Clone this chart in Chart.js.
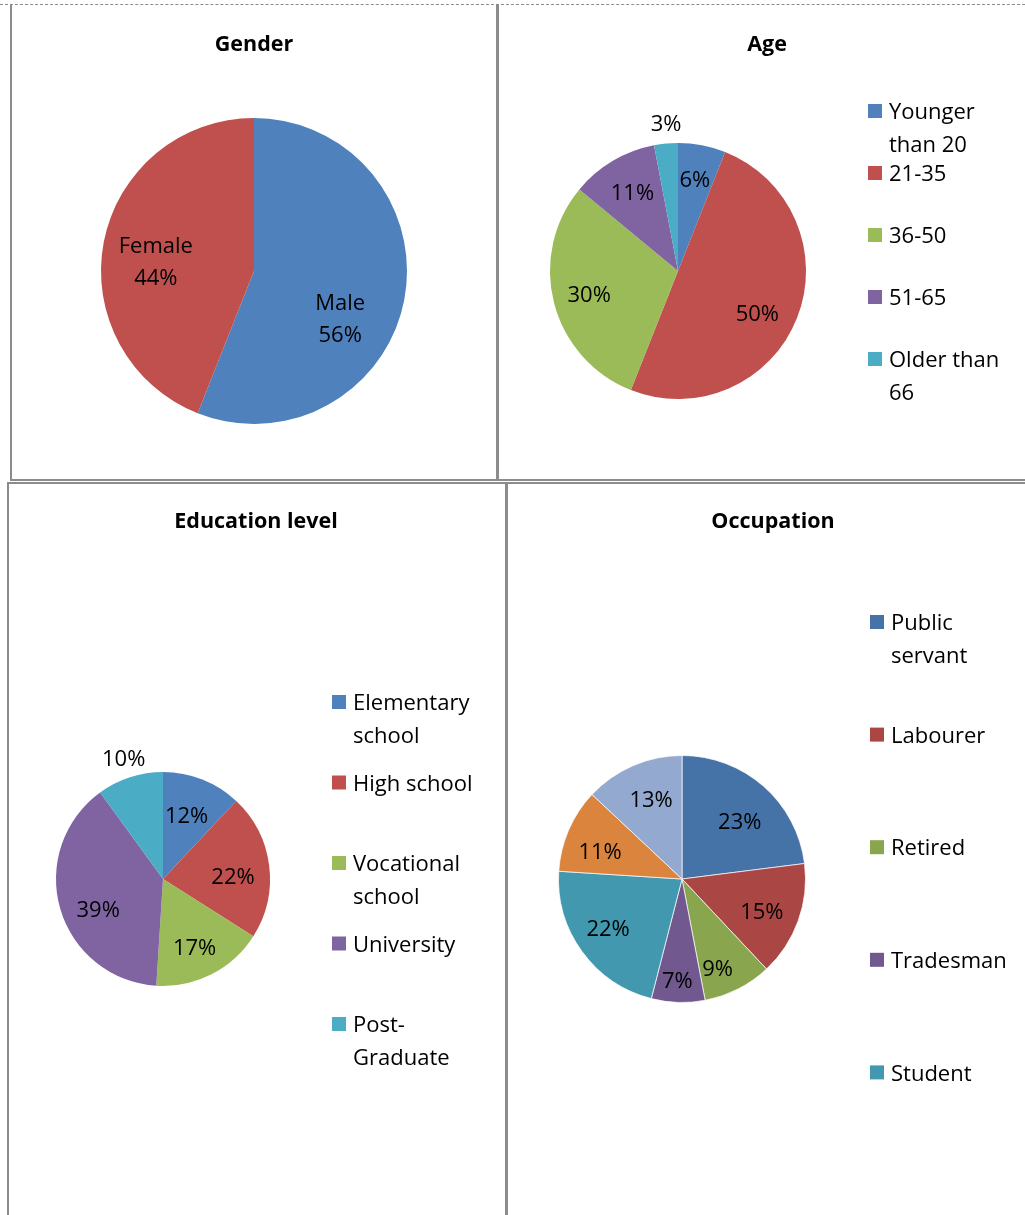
<!DOCTYPE html>
<html lang="en">
<head>
    <meta charset="utf-8" />
    <title>Survey respondents</title>
    <script src="https://cdn.jsdelivr.net/npm/chart.js"></script>
    <style>
      body { margin: 0; background: #fff; }
      #page { position: relative; width: 1025px; height: 1215px; overflow: hidden; }
      #page canvas { position: absolute; left: 0; top: 0; }
      .rule { position: absolute; background: #8c8c8c; }
      .dash { position: absolute; left: 0; top: 4px; width: 1025px; border-top: 1px dashed #8c8c8c; }
    </style>
</head>
<body>
<div id="page">
    <!-- table borders -->
    <div class="dash"></div>
    <div class="rule" style="left:10px;top:5px;width:2px;height:476px"></div>
    <div class="rule" style="left:496px;top:5px;width:3px;height:476px"></div>
    <div class="rule" style="left:10px;top:479px;width:1015px;height:2px"></div>
    <div class="rule" style="left:7px;top:482px;width:1018px;height:2px"></div>
    <div class="rule" style="left:7px;top:482px;width:2px;height:733px"></div>
    <div class="rule" style="left:505px;top:482px;width:3px;height:733px"></div>

    <canvas id="genderChart" width="1025" height="1215"></canvas>
    <canvas id="ageChart" width="1025" height="1215"></canvas>
    <canvas id="eduChart" width="1025" height="1215"></canvas>
    <canvas id="occChart" width="1025" height="1215"></canvas>
</div>

<script>
    // --- données ---
    const genderLabels = ["Male", "Female"];
    const genderValues = [56, 44];

    const ageLabels = [["Younger", "than 20"], "21-35", "36-50", "51-65", ["Older than", "66"]];
    const ageValues = [6, 50, 30, 11, 3];

    const eduLabels = [["Elementary", "school"], "High school", ["Vocational", "school"], "University", ["Post-", "Graduate"]];
    const eduValues = [12, 22, 17, 39, 10];

    const occLabels = [["Public", "servant"], "Labourer", "Retired", "Tradesman", "Student", "Unemployed", "Other"];
    const occValues = [23, 15, 9, 7, 22, 11, 13];

    const officeColors = ["#4F81BD", "#C0504D", "#9BBB59", "#8064A2", "#4BACC6", "#F79646"];
    const occColors = ["#4572A7", "#AA4643", "#89A54E", "#71588F", "#4198AF", "#DB843D", "#93A9CF"];

    const FONT = "'Open Sans', Lato, sans-serif";
    const TEXT_DY = 2; // petit recalage vertical du texte

    // plugin : titre, étiquettes de pourcentage et légende (dessinés sur le canvas)
    const pieExtras = {
        id: "pieExtras",
        afterDatasetsDraw(chart, args, opts) {
            const ctx = chart.ctx;
            const ds = chart.data.datasets[0];
            const total = ds.data.reduce((a, b) => a + b, 0);
            const meta = chart.getDatasetMeta(0);
            ctx.save();
            ctx.fillStyle = "#000";
            ctx.textAlign = "center";
            ctx.textBaseline = "middle";

            // étiquettes (placement "meilleur ajustement" approché par un petit décalage)
            ctx.font = opts.labelFont;
            meta.data.forEach((arc, i) => {
                const p = arc.getProps(["x", "y", "startAngle", "endAngle", "outerRadius"], true);
                const mid = (p.startAngle + p.endAngle) / 2;
                const f = opts.outside.includes(i) ? opts.outsideR : opts.insideR;
                const nudge = (opts.nudge && opts.nudge[i]) || [0, 0];
                const x = p.x + Math.cos(mid) * p.outerRadius * f + nudge[0];
                const y = p.y + Math.sin(mid) * p.outerRadius * f + nudge[1] + TEXT_DY;
                const pct = Math.round(ds.data[i] / total * 100) + "%";
                const lines = opts.showName ? [].concat(chart.data.labels[i], pct) : [pct];
                const h = opts.lineH * (lines.length - 1);
                lines.forEach((t, k) => ctx.fillText(t, x, y - h / 2 + k * opts.lineH));
            });

            // titre
            ctx.font = "bold 21.5px " + FONT;
            ctx.fillText(opts.title, opts.titleX, opts.titleY + TEXT_DY);

            // légende
            const lg = opts.legend;
            if (lg) {
                ctx.textAlign = "left";
                ctx.font = lg.font;
                const n = Math.min(lg.max, chart.data.labels.length);
                for (let i = 0; i < n; i++) {
                    const y = lg.y + i * lg.pitch;
                    ctx.fillStyle = ds.backgroundColor[i];
                    ctx.fillRect(lg.x, y - lg.box / 2, lg.box, lg.box);
                    ctx.fillStyle = "#000";
                    [].concat(chart.data.labels[i]).forEach((t, k) => {
                        ctx.fillText(t, lg.x + lg.box + 7, y + k * lg.lineH + TEXT_DY);
                    });
                }
            }
            ctx.restore();
        }
    };

    // --- fonction générique pour créer un camembert ---
    // cx, cy, r : centre et rayon du disque dans la page
    function createPie(id, labels, values, colors, cx, cy, r, extras, border) {
        return new Chart(document.getElementById(id).getContext("2d"), {
            type: "pie",
            data: {
                labels: labels,
                datasets: [{
                    data: values,
                    backgroundColor: colors.slice(0, values.length),
                    borderColor: "rgba(255,255,255,0.7)",
                    borderWidth: border
                }]
            },
            options: {
                responsive: false,
                animation: false,
                layout: {
                    padding: { left: cx - r, right: 1025 - cx - r, top: cy - r, bottom: 1215 - cy - r }
                },
                plugins: {
                    legend: { display: false },
                    tooltip: { enabled: false },
                    pieExtras: extras
                }
            },
            plugins: [pieExtras]
        });
    }

    createPie("genderChart", genderLabels, genderValues, officeColors, 254, 271, 153, {
        title: "Gender", titleX: 254, titleY: 43,
        labelFont: "22px " + FONT, lineH: 32, showName: true,
        insideR: 0.64, outsideR: 1.15, outside: [],
        nudge: [[-10, 28], [-2, 8]]
    }, 0);

    createPie("ageChart", ageLabels, ageValues, officeColors, 678, 271, 128, {
        title: "Age", titleX: 767, titleY: 43,
        labelFont: "22px " + FONT, lineH: 32, showName: false,
        insideR: 0.7, outsideR: 1.16, outside: [4],
        nudge: [[0, -4], [-4, 9], [-2, 0], [0, -2], [2, 0]],
        legend: { x: 868, y: 111, pitch: 62, box: 14, lineH: 33, max: 5, font: "22px " + FONT }
    }, 0);

    createPie("eduChart", eduLabels, eduValues, officeColors, 163, 879, 107, {
        title: "Education level", titleX: 256, titleY: 520,
        labelFont: "22px " + FONT, lineH: 32, showName: false,
        insideR: 0.65, outsideR: 1.19, outside: [4],
        nudge: [[-2, 0], [1, 5], [0, 6], [2, 10], [0, 0]],
        legend: { x: 332, y: 702, pitch: 80.5, box: 14, lineH: 33, max: 5, font: "22px " + FONT }
    }, 0);

    // la légende de l'original ne montre que les 5 premières catégories
    createPie("occChart", occLabels, occValues, occColors, 682, 879, 124, {
        title: "Occupation", titleX: 773, titleY: 520,
        labelFont: "22px " + FONT, lineH: 32, showName: false,
        insideR: 0.67, outsideR: 1.15, outside: [],
        nudge: [[3, 4], [2, 4], [-2, 15], [-2, 18], [-7, 0], [-6, 5], [2, -4]],
        legend: { x: 870, y: 622, pitch: 112.6, box: 14, lineH: 33, max: 5, font: "22px " + FONT }
    }, 1);
</script>
</body>
</html>
